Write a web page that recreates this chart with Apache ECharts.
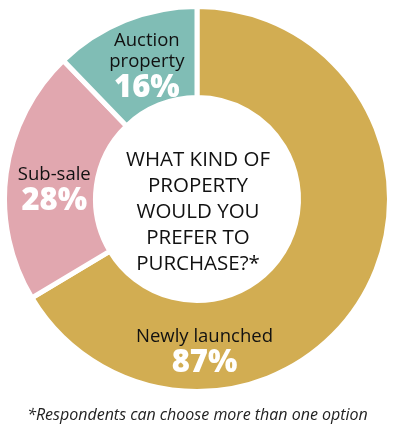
<!DOCTYPE html>
<html>
<head>
<meta charset="utf-8">
<style>
  html, body { margin: 0; padding: 0; background: #fff; }
  #chart { width: 395px; height: 428px; }
</style>
<script src="https://cdn.jsdelivr.net/npm/echarts@6/dist/echarts.min.js"></script>
</head>
<body>
<div id="chart"></div>
<script>
var categories = ['Newly launched', 'Sub-sale', 'Auction property'];
var labelNames = ['Newly launched', 'Sub-sale', 'Auction\nproperty'];
var values = [87, 28, 16];
var colors = ['#D2AD52', '#E1A7AF', '#80BDB5'];
var labelOffsets = [[-123, 80], [6, 11], [6, 7]];
var centerText = 'WHAT KIND OF\nPROPERTY\nWOULD YOU\nPREFER TO\nPURCHASE?*';
var footnote = '*Respondents can choose more than one option';

var chart = echarts.init(document.getElementById('chart'), null, { renderer: 'canvas' });

var data = categories.map(function (c, i) {
  return {
    name: c,
    value: values[i],
    itemStyle: { color: colors[i] },
    label: { offset: labelOffsets[i] }
  };
});

chart.setOption({
  animation: false,
  backgroundColor: '#ffffff',
  title: {
    text: footnote,
    left: 'center',
    top: 402,
    textStyle: {
      fontFamily: 'Open Sans',
      fontStyle: 'italic',
      fontWeight: 'normal',
      fontSize: 16,
      color: '#222'
    }
  },
  graphic: [{
    type: 'text',
    x: 198,
    y: 212,
    style: {
      text: centerText,
      fontFamily: 'Open Sans',
      fontSize: 20.5,
      lineHeight: 26,
      fill: '#111',
      align: 'center',
      verticalAlign: 'middle'
    }
  }],
  series: [{
    type: 'pie',
    center: [197, 199],
    radius: [101.5, 192.5],
    startAngle: 90,
    clockwise: true,
    avoidLabelOverlap: false,
    itemStyle: { borderColor: '#ffffff', borderWidth: 5 },
    label: {
      show: true,
      position: 'inside',
      formatter: function (p) {
        return '{n|' + labelNames[p.dataIndex].split('\n').join('}\n{n|') + '}\n{v|' + p.value + '%}';
      },
      rich: {
        n: { fontFamily: 'Open Sans', fontSize: 18.5, lineHeight: 21, color: '#111', align: 'center' },
        v: { fontFamily: 'Open Sans', fontSize: 31, fontWeight: 800, lineHeight: 32, color: '#ffffff', align: 'center' }
      }
    },
    labelLine: { show: false },
    emphasis: { disabled: true },
    data: data
  }]
});
</script>
</body>
</html>
